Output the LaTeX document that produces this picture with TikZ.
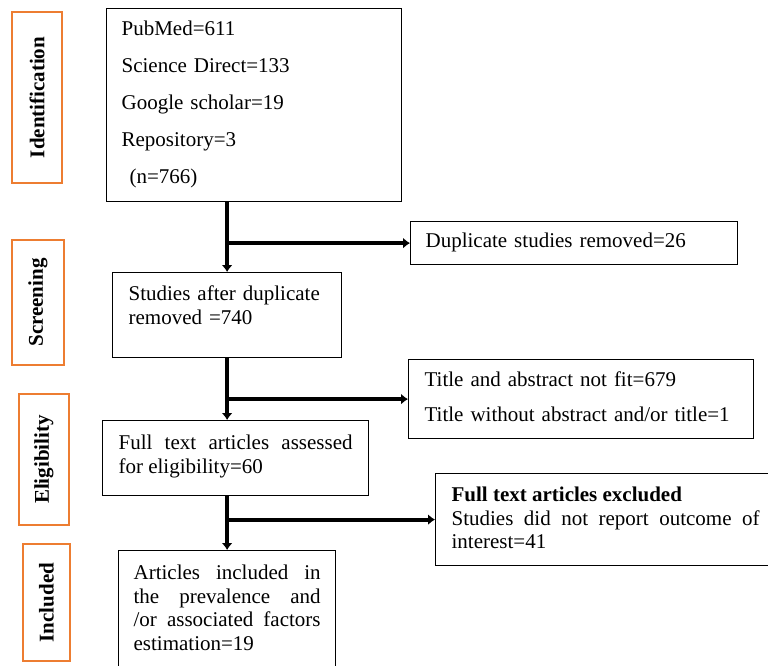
\documentclass[tikz,border=0pt]{standalone}
\usepackage{fontspec}
\setmainfont{Liberation Serif}
\usetikzlibrary{arrows.meta}
\definecolor{stageorange}{RGB}{237,125,49}
\tikzset{
  box/.style={draw, line width=1.2pt, anchor=north west, inner xsep=15pt, inner ysep=0pt,
    font=\fontsize{21}{23.5}\selectfont},
  stage/.style={draw=stageorange, line width=1.6pt, rotate=90, inner sep=0pt,
    font=\fontsize{21}{23.5}\selectfont\bfseries},
  flow/.style={line width=4pt, -{Latex[length=7pt,width=11pt]}},
}

\begin{document}
\begin{tikzpicture}[x=1pt,y=-1pt]
        \useasboundingbox (0,0) rectangle (768,666);

        % Stage labels on the left
        \node[stage, minimum width=171pt, minimum height=50pt] (ident) at (37,97.5) {Identification};
        \node[stage, minimum width=125pt, minimum height=52pt] (screen) at (38,302.5) {Screening};
        \node[stage, minimum width=131pt, minimum height=50pt] (elig) at (44,459.5) {Eligibility};
        \node[stage, minimum width=117pt, minimum height=47pt] (incld) at (46.5,602.5) {Included};

        % Main column
        \node[box, text width=265pt, text height=27pt, text depth=166pt, align=left] (src) at (106,8)
            {PubMed=611\\[13.5pt] Science Direct=133\\[13.5pt] Google scholar=19\\[13.5pt]
             Repository=3\\[13.5pt] \hspace{8pt}(n=766)};
        \node[box, inner xsep=16pt, text width=197pt, text height=28pt, text depth=57pt, align=left] (studies) at (112,272)
            {Studies after duplicate\\ removed =740};
        \node[box, inner xsep=16pt, text width=234pt, text height=29pt, text depth=46pt, align=justify] (full) at (102,420)
            {Full text articles assessed\linebreak for eligibility=60};
        \node[box, text width=187pt, text height=29pt, text depth=140pt, align=justify] (incl) at (118,550)
            {Articles included in\linebreak the prevalence and\linebreak /or associated factors\linebreak estimation=19};

        % Exclusions on the right
        \node[box, text width=297pt, text height=26pt, text depth=17pt, align=left] (dup) at (410,221)
            {Duplicate studies removed=26};
        \node[box, inner xsep=16pt, text width=313pt, text height=27pt, text depth=52pt, align=left] (notfit) at (408,359)
            {Title and abstract not fit=679\\[11.5pt] Title without abstract and/or title=1};
        \node[box, inner xsep=16pt, text width=308pt, text height=28pt, text depth=64pt, align=justify] (excl) at (435,473)
            {\textbf{Full text articles excluded}\\ Studies did not report outcome of\linebreak interest=41};

        % Arrows
        \draw[flow] (studies.north |- src.south) -- (studies.north);
        \draw[flow] (studies.north |- dup.west) -- (dup.west);
        \draw[flow] (studies.south) -- (studies.south |- full.north);
        \draw[flow] (studies.south |- notfit.west) -- (notfit.west);
        \draw[flow] (incl.north |- full.south) -- (incl.north);
        \draw[flow] (incl.north |- excl.west) -- (excl.west);

    \end{tikzpicture}
\end{document}
